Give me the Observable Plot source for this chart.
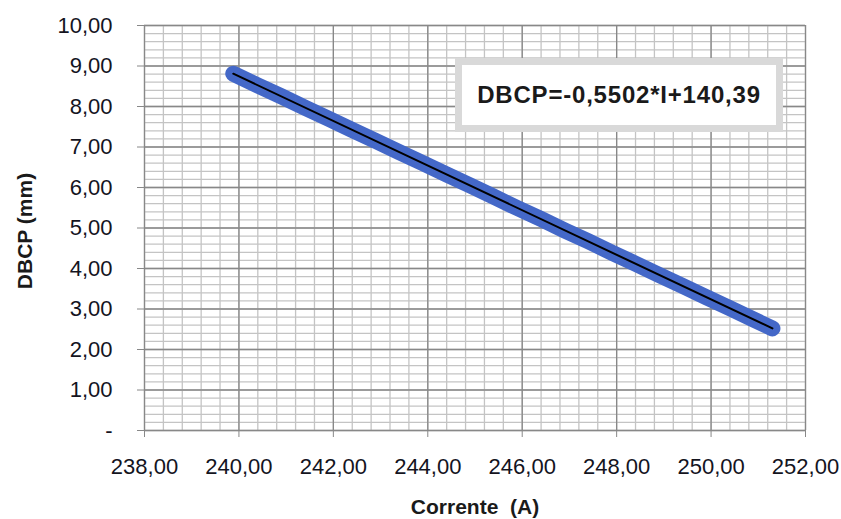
<!DOCTYPE html>
<html>
<head>
<meta charset="utf-8">
<script src="https://cdn.jsdelivr.net/npm/d3@7"></script>
<script src="https://cdn.jsdelivr.net/npm/@observablehq/plot@0.6"></script>
<style>
  html, body { margin: 0; padding: 0; background: #fff; }
  #chart { position: relative; width: 841px; height: 519px; }
  #eq {
    position: absolute; left: 455px; top: 58px; width: 328px; height: 74px;
    box-sizing: border-box; border: 7px solid #d9d9d9; background: #fff;
    display: flex; align-items: center; justify-content: center;
    font-family: "Liberation Sans", Arial, sans-serif; font-weight: bold;
    font-size: 24px; letter-spacing: 0.8px; color: #1a1a1a;
  }
</style>
</head>
<body>
<div id="chart"></div>
<script>
// Measured arc current (A) and the resulting DBCP (mm)
const corrente = [239.88, 240.4, 240.9, 241.4, 241.9, 242.4, 242.9, 243.4, 243.9, 244.4, 244.9, 245.4,
                  245.9, 246.4, 246.9, 247.4, 247.9, 248.4, 248.9, 249.4, 249.9, 250.4, 250.9, 251.3];
const dbcp = [8.81, 8.52, 8.25, 7.97, 7.70, 7.42, 7.15, 6.87, 6.60, 6.32, 6.05, 5.77,
              5.49, 5.22, 4.94, 4.67, 4.39, 4.12, 3.84, 3.57, 3.29, 3.02, 2.74, 2.52];

// Axis ticks
const xTicks = [238, 240, 242, 244, 246, 248, 250, 252];
const yTicks = [0, 1, 2, 3, 4, 5, 6, 7, 8, 9, 10];
const xMinor = d3.range(0, 36).map(i => 238 + i * 0.4);
const yMinor = d3.range(0, 51).map(i => i * 0.2);

const equation = "DBCP=-0,5502*I+140,39";
const xTitle = "Corrente\u00a0 (A)";
const yTitle = "DBCP (mm)";

const data = corrente.map((c, i) => ({corrente: c, dbcp: dbcp[i]}));
const fmt = d => d === 0 ? "-" : d.toFixed(2).replace(".", ",");

const chart = Plot.plot({
  width: 841,
  height: 519,
  marginLeft: 144,
  marginRight: 36,
  marginTop: 25,
  marginBottom: 89,
  style: {fontFamily: "'Liberation Sans', Arial, sans-serif", fontSize: "22px", color: "#14141e", background: "#fff"},
  x: {domain: [238, 252]},
  y: {domain: [0, 10]},
  marks: [
    Plot.ruleX(xMinor, {stroke: "#c4c4c4", strokeWidth: 1.3}),
    Plot.ruleY(yMinor, {stroke: "#c4c4c4", strokeWidth: 1.3}),
    Plot.ruleX(xTicks, {stroke: "#888", strokeWidth: 1.3}),
    Plot.ruleY(yTicks, {stroke: "#888", strokeWidth: 1.3}),
    Plot.axisX({ticks: xTicks, tickFormat: fmt, tickSize: 7, tickPadding: 21, stroke: "#888", label: null}),
    Plot.axisY({ticks: yTicks, tickFormat: fmt, tickSize: 7, tickPadding: 25, stroke: "#888", label: null}),
    Plot.line(data, {x: "corrente", y: "dbcp", stroke: "#4468c8", strokeWidth: 16, strokeLinecap: "round", strokeLinejoin: "round"}),
    Plot.linearRegressionY(data, {x: "corrente", y: "dbcp", stroke: "#000", strokeWidth: 2, ci: 0}),
    Plot.text([xTitle], {frameAnchor: "bottom", dy: 77, lineAnchor: "middle", textAnchor: "middle", fontWeight: "bold", fontSize: 21, fill: "#1a1a1a"}),
    Plot.text([yTitle], {frameAnchor: "left", dx: -119, dy: 3, rotate: -90, textAnchor: "middle", lineAnchor: "middle", fontWeight: "bold", fontSize: 21, fill: "#1a1a1a"})
  ]
});

const root = document.getElementById("chart");
root.appendChild(chart);
const box = document.createElement("div");
box.id = "eq";
box.textContent = equation;
root.appendChild(box);
</script>
</body>
</html>
